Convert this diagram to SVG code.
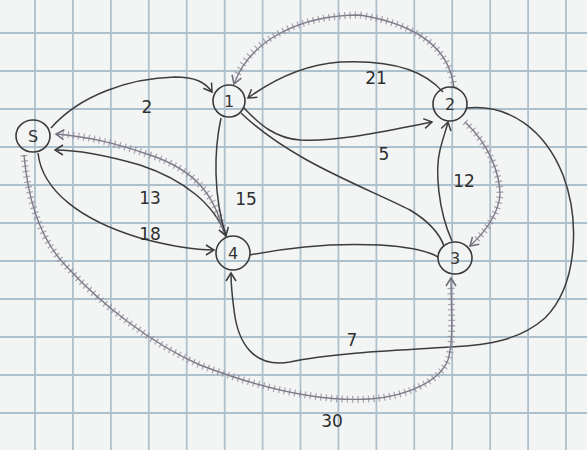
<svg xmlns="http://www.w3.org/2000/svg" width="587" height="450" viewBox="0 0 587 450">
<style>
.grid{stroke:#aec0cb;stroke-width:1.8;fill:none}
.node ellipse{fill:none;stroke:#3a3a3a;stroke-width:1.6}
.nl{font-family:"DejaVu Sans",sans-serif;font-size:16px;fill:#333;text-anchor:middle}
.el{font-family:"DejaVu Sans",sans-serif;font-size:17px;fill:#2e2e2e;text-anchor:middle}
.e{fill:none;stroke:#3c3c3c;stroke-width:1.5}
.h{fill:none;stroke:#7f7a88;stroke-width:1.4}
.ht{fill:none;stroke:#968ca0;stroke-width:7;stroke-dasharray:1.3 4;opacity:.75}
</style>
<defs>
<marker id="a" markerWidth="12" markerHeight="12" refX="9" refY="6" orient="auto" markerUnits="userSpaceOnUse">
<path d="M1,1 L9,6 L1,11" fill="none" stroke="#3c3c3c" stroke-width="1.5"/>
</marker>
<marker id="ah" markerWidth="12" markerHeight="12" refX="9" refY="6" orient="auto" markerUnits="userSpaceOnUse">
<path d="M1,1 L9,6 L1,11" fill="none" stroke="#6f6a78" stroke-width="1.5"/>
</marker>
</defs>
<rect width="587" height="450" fill="#f3f5f4"/>
<g id="grid" class="grid">
<path d="M-2.9,0V450M35,0V450M72.9,0V450M110.9,0V450M148.8,0V450M186.7,0V450M224.7,0V450M262.6,0V450M300.5,0V450M338.4,0V450M376.4,0V450M414.3,0V450M452.2,0V450M490.2,0V450M528.1,0V450M566,0V450"/>
<path d="M0,-5H587M0,33H587M0,71H587M0,109H587M0,147H587M0,185H587M0,223H587M0,261H587M0,299H587M0,337H587M0,375H587M0,413H587M0,451H587"/>
</g>
<g id="connectors">
<path class="e" d="M51,128 C80,95 130,78 175,77 C195,77 205,82 212,92" marker-end="url(#a)"/>
<path class="e" d="M38,153 C42,190 80,220 140,238 C170,246 195,250 214,250" marker-end="url(#a)"/>
<path class="e" d="M226,236 C215,205 185,180 140,165 C105,155 80,150 55,150" marker-end="url(#a)"/>
<path class="ht" d="M224,232 C215,195 195,170 150,155 C115,143 90,137 62,134"/>
<path class="h" d="M224,234 C215,195 195,170 150,155 C115,143 90,137 56,134" marker-end="url(#ah)"/>
<path class="e" d="M221,118 C214,150 213,195 226,236" marker-end="url(#a)"/>
<path class="e" d="M443,92 C420,65 380,60 340,62 C300,65 270,82 248,98" marker-end="url(#a)"/>
<path class="ht" d="M454,88 C450,50 420,25 360,15 C300,15 250,40 236,78"/>
<path class="h" d="M454,88 C450,50 420,25 360,15 C300,15 250,40 234,84" marker-end="url(#ah)"/>
<path class="e" d="M243,107 C260,125 275,138 300,140 C340,142 390,130 432,122" marker-end="url(#a)"/>
<path class="e" d="M241,113 C290,160 360,185 410,210 C430,222 440,235 444,246"/>
<path class="e" d="M250,255 C300,245 340,243 380,245 C410,247 430,252 438,257"/>
<path class="e" d="M452,241 C438,210 435,170 440,150 C443,138 446,130 448,122" marker-end="url(#a)"/>
<path class="ht" d="M465,122 C490,145 500,175 500,195 C498,215 485,232 474,242"/>
<path class="h" d="M465,122 C490,145 500,175 500,195 C498,215 485,232 470,246" marker-end="url(#ah)"/>
<path class="e" d="M467,108 C510,104 545,130 563,175 C580,220 578,285 545,318 C520,340 490,345 450,347 C400,350 330,353 290,362 C255,368 238,345 234,310 C232,295 231,285 231,273" marker-end="url(#a)"/>
<path class="ht" d="M24,155 C28,200 40,240 67,267 C100,303 150,343 200,365 C260,388 320,402 370,399 C410,396 440,380 448,360 C454,340 451,310 451,285"/>
<path class="h" d="M24,155 C28,200 40,240 67,267 C100,303 150,343 200,365 C260,388 320,402 370,399 C410,396 440,380 448,360 C454,340 451,310 451,278" marker-end="url(#ah)"/>
</g>
<g id="labels">
<text class="el" x="147" y="113">2</text>
<text class="el" x="150" y="240">18</text>
<text class="el" x="150" y="204">13</text>
<text class="el" x="246" y="205">15</text>
<text class="el" x="376" y="84">21</text>
<text class="el" x="384" y="160">5</text>
<text class="el" x="464" y="187">12</text>
<text class="el" x="352" y="346">7</text>
<text class="el" x="332" y="427">30</text>
</g>
<g id="node-S" class="node"><ellipse cx="33" cy="136" rx="17" ry="16"/><text class="nl" x="33" y="142">S</text></g>
<g id="node-1" class="node"><ellipse cx="229" cy="101" rx="16" ry="16"/><text class="nl" x="229" y="107">1</text></g>
<g id="node-2" class="node"><ellipse cx="450" cy="104" rx="17" ry="17"/><text class="nl" x="450" y="110">2</text></g>
<g id="node-4" class="node"><ellipse cx="233" cy="253" rx="17" ry="17"/><text class="nl" x="233" y="259">4</text></g>
<g id="node-3" class="node"><ellipse cx="455" cy="258" rx="17" ry="16"/><text class="nl" x="455" y="264">3</text></g>
</svg>
